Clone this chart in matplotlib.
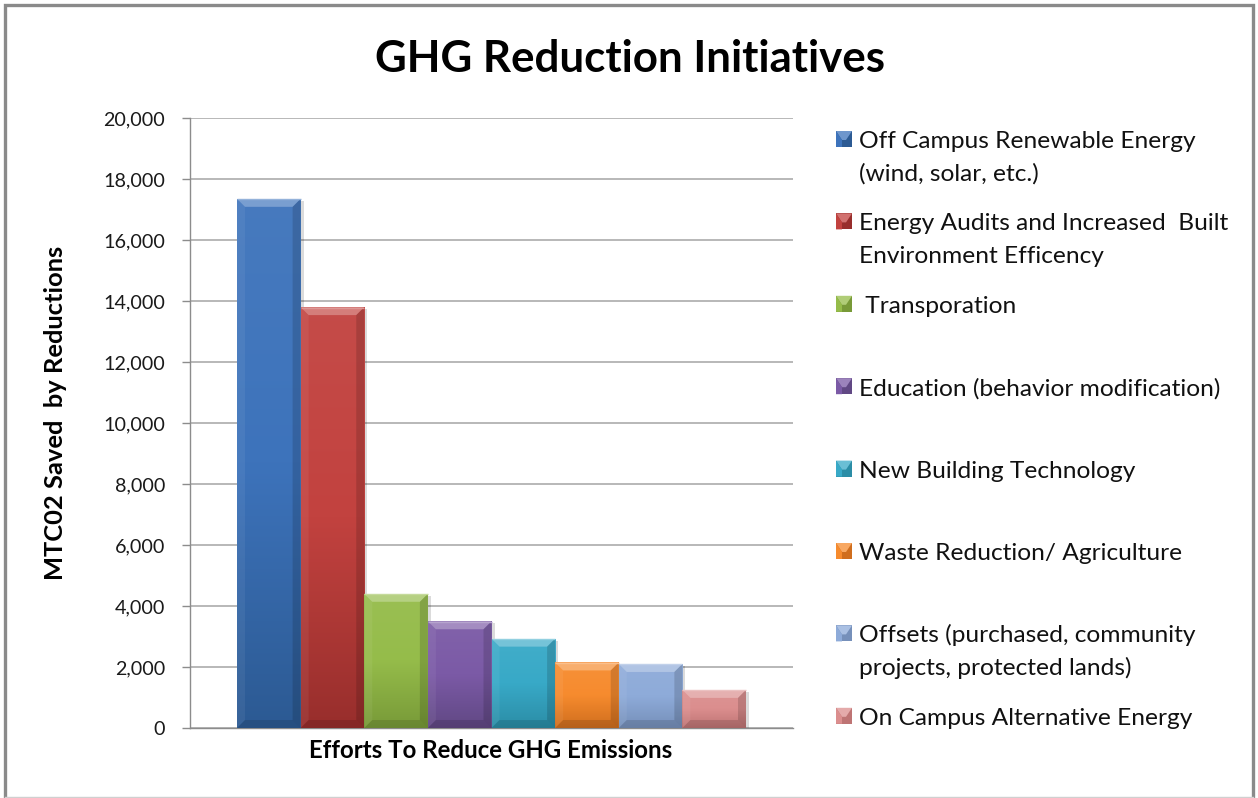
import numpy as np
import matplotlib
matplotlib.use("Agg")
import matplotlib.pyplot as plt
from matplotlib.patches import Rectangle, Polygon
from matplotlib.colors import to_rgb, LinearSegmentedColormap

# ---------------- data ----------------
categories = [
    "Off Campus Renewable Energy\n(wind, solar, etc.)",
    "Energy Audits and Increased  Built\nEnvironment Efficency",
    " Transporation",
    "Education (behavior modification)",
    "New Building Technology",
    "Waste Reduction/ Agriculture",
    "Offsets (purchased, community\nprojects, protected lands)",
    "On Campus Alternative Energy",
]
values = [17350, 13800, 4400, 3500, 2930, 2150, 2100, 1250]
colors_top = ["#3D73BB", "#C2423F", "#95BC4A", "#7B5AA6",
              "#38A9C7", "#F68B2E", "#8EABD9", "#DB8E8E"]
colors_bottom = ["#2C5A93", "#982E2C", "#789A38", "#614884",
                 "#2B8DA6", "#D06E1E", "#7690BA", "#BE7474"]
yticks = [0, 2000, 4000, 6000, 8000, 10000, 12000, 14000, 16000, 18000, 20000]
title = "GHG Reduction Initiatives"
xlabel = "Efforts To Reduce GHG Emissions"
ylabel = "MTC02 Saved  by Reductions"

FONT = "Lato"
W, H = 1258, 798
fig = plt.figure(figsize=(W / 100, H / 100), dpi=100)
fig.patch.set_facecolor("white")
renderer = fig.canvas.get_renderer()

# plot area in pixels
L, R, T, B = 190, 793, 118, 728
ax = fig.add_axes([L / W, 1 - B / H, (R - L) / W, (B - T) / H])
ax.set_facecolor("white")

n = len(values)
x = np.arange(n)
pad_units = 47 / ((R - L - 94) / n)
xlim = (-0.5 - pad_units, n - 0.5 + pad_units)
ylim = (0, yticks[-1])
px_x = (xlim[1] - xlim[0]) / (R - L)
px_y = (ylim[1] - ylim[0]) / (B - T)

bars = ax.bar(x, values, width=1.0, color="none", edgecolor="none", zorder=3)


def mix(c, other, f):
    c = np.array(to_rgb(c)); o = np.array(to_rgb(other))
    return tuple(c * (1 - f) + o * f)


grad = np.linspace(0, 1, 256).reshape(-1, 1)
bv = 8  # bevel in px
for bar, ct, cb in zip(bars, colors_top, colors_bottom):
    x0, w, h = bar.get_x(), bar.get_width(), bar.get_height()
    x1 = x0 + w
    # shadow
    ax.add_patch(Rectangle((x0 + 3 * px_x, -2 * px_y), w, h, facecolor="black",
                           alpha=0.14, edgecolor="none", zorder=2.5))
    cmap = LinearSegmentedColormap.from_list("g", [cb, ct, mix(ct, "white", 0.05)])
    im = ax.imshow(grad, extent=[x0, x1, 0, h], origin="lower", cmap=cmap,
                   aspect="auto", zorder=3, interpolation="bilinear")
    im.set_clip_path(bar)
    bx, by = bv * px_x, bv * px_y
    ax.add_patch(Polygon([(x0, h), (x1, h), (x1 - bx, h - by), (x0 + bx, h - by)],
                         closed=True, facecolor="white", alpha=0.28,
                         edgecolor="none", zorder=4))
    ax.add_patch(Polygon([(x1, h), (x1, 0), (x1 - bx, by), (x1 - bx, h - by)],
                         closed=True, facecolor="black", alpha=0.14,
                         edgecolor="none", zorder=4))
    ax.add_patch(Polygon([(x0, h), (x0 + bx, h - by), (x0 + bx, by), (x0, 0)],
                         closed=True, facecolor="white", alpha=0.06,
                         edgecolor="none", zorder=4))
    ax.add_patch(Polygon([(x0, 0), (x1, 0), (x1 - bx, by), (x0 + bx, by)],
                         closed=True, facecolor="black", alpha=0.12,
                         edgecolor="none", zorder=4))
    ax.plot([x0, x1], [h - 0.5 * px_y, h - 0.5 * px_y], color=mix(ct, "white", 0.45),
            lw=1, zorder=4.5, solid_capstyle="butt")

ax.set_xlim(*xlim)
ax.set_ylim(*ylim)
ax.set_yticks(yticks)
ax.set_yticklabels([f"{v:,}" for v in yticks])
ax.set_xticks([])
ax.yaxis.grid(True, color="#ABABAB", lw=1.2, zorder=0)
ax.set_axisbelow(True)
for s in ["top", "right"]:
    ax.spines[s].set_visible(False)
for s in ["left", "bottom"]:
    ax.spines[s].set_color("#8C8C8C")
    ax.spines[s].set_linewidth(1.0)

# tick label font size fitted to reference width
tmp = fig.text(0, 0, "20,000", fontsize=14, family=FONT)
for _ in range(2):
    tmp.set_fontsize(tmp.get_fontsize() * 62 / tmp.get_window_extent(renderer).width)
tick_fs = tmp.get_fontsize()
tmp.remove()
ax.tick_params(axis="y", direction="out", length=5.8, width=1, color="#8C8C8C",
               pad=12, labelsize=tick_fs, labelcolor="#1a1a1a")
for lab in ax.get_yticklabels():
    lab.set_family(FONT)

# overlay in pixel coords
ov = fig.add_axes([0, 0, 1, 1], zorder=5)
ov.patch.set_alpha(0)
ov.axis("off")
ov.set_xlim(0, W)
ov.set_ylim(H, 0)


def fit(t, target, use_height=False):
    for _ in range(2):
        bb = t.get_window_extent(renderer)
        cur = bb.height if use_height else bb.width
        t.set_fontsize(t.get_fontsize() * target / cur)


t_title = ov.text(630, 72, title, ha="center", va="baseline", fontsize=30,
                  fontweight="bold", family=FONT, color="black")
fit(t_title, 510)
t_x = ov.text(491, 758, xlabel, ha="center", va="baseline", fontsize=14,
              fontweight="bold", family=FONT, color="black")
fit(t_x, 362)
t_y = ov.text(56, 413, ylabel, ha="center", va="center", rotation=90, fontsize=14,
              fontweight="bold", family=FONT, color="black")
fit(t_y, 333, use_height=True)

# legend
tmp = ov.text(0, 0, "Education (behavior modification)", fontsize=14, family=FONT)
fit(tmp, 362)
leg_fs = tmp.get_fontsize()
tmp.remove()
row0, row_step, line_step = 139, 82.4, 32.5
for i, (lab, ct, cb) in enumerate(zip(categories, colors_top, colors_bottom)):
    yc = row0 + i * row_step
    ov.add_patch(Rectangle((836, yc - 8), 16, 16, facecolor=cb, edgecolor="none"))
    ov.add_patch(Polygon([(836, yc - 8), (852, yc - 8), (846, yc + 1), (842, yc + 1)],
                         closed=True, facecolor=mix(ct, "white", 0.25), edgecolor="none"))
    ov.add_patch(Polygon([(836, yc - 8), (842, yc + 1), (842, yc + 8), (836, yc + 8)],
                         closed=True, facecolor=ct, edgecolor="none"))
    for k, line in enumerate(lab.split("\n")):
        ov.text(859, yc + 9 + k * line_step, line, ha="left", va="baseline",
                fontsize=leg_fs, family=FONT, color="#111111")

# frame
ov.plot([5, 5, 1252.5, 1252.5], [797, 5, 5, 797], color="#8A8A8A", lw=2.4,
        solid_joinstyle="miter")
ov.plot([5, 1252.5], [796.5, 796.5], color="#D0D0D0", lw=1)

fig.savefig("out.png", dpi=100, facecolor="white")
